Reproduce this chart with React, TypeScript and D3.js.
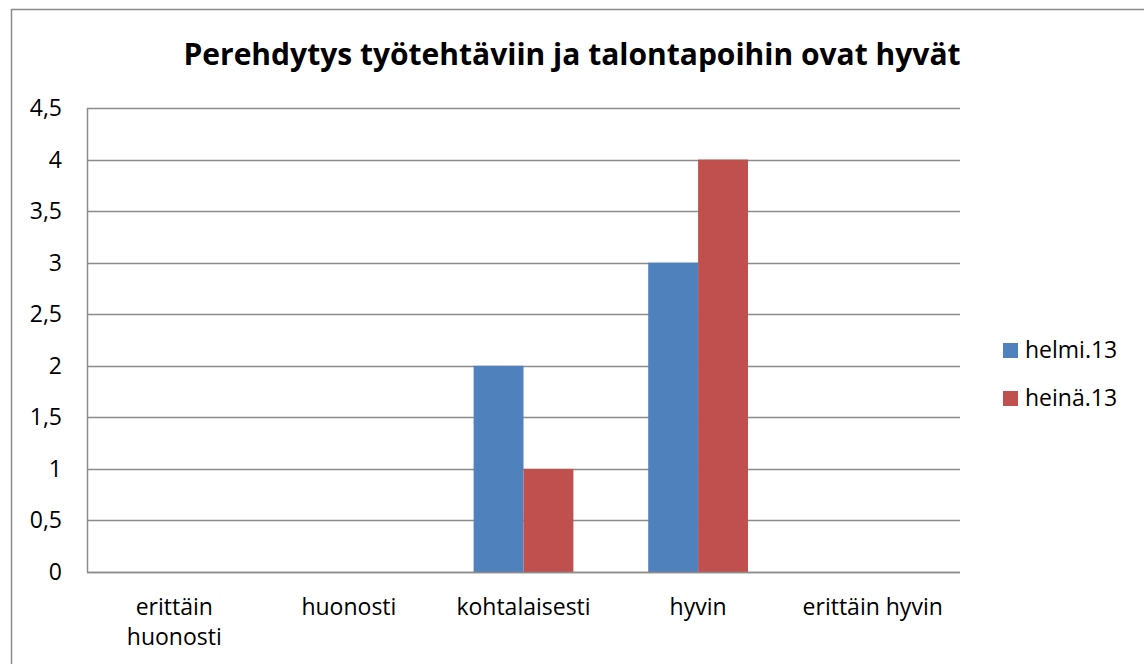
import React from "react";
import * as d3 from "d3";

const categories = ["erittäin huonosti", "huonosti", "kohtalaisesti", "hyvin", "erittäin hyvin"];
const categoryLines = [["erittäin", "huonosti"], ["huonosti"], ["kohtalaisesti"], ["hyvin"], ["erittäin hyvin"]];
const seriesNames = ["helmi.13", "heinä.13"];
const helmi = [0, 0, 2, 3, 0];
const heina = [0, 0, 1, 4, 0];
const yTicks = [0, 0.5, 1, 1.5, 2, 2.5, 3, 3.5, 4, 4.5];
const colors = ["#4F81BD", "#C0504D"];

const W = 1144, H = 664;
const FONT = "'Open Sans', sans-serif";

export default function App() {
  const left = 87, right = 960, top = 108, bottom = 572;
  const x = d3.scaleBand().domain(categories).range([left, right]).paddingInner(0).paddingOuter(0);
  const y = d3.scaleLinear().domain([0, 4.5]).range([bottom, top]);
  const bw = x.bandwidth() / 3.5;
  const series = [helmi, heina];
  const fmt = (v: number) => String(v).replace(".", ",");
  return (
    <svg width={W} height={H} style={{ position: "absolute", left: 0, top: 0 }}>
      <rect x={0} y={0} width={W} height={H} fill="#fff" />
      <rect x={11.5} y={9.5} width={W + 10} height={H + 10} fill="none" stroke="#8c8c8c" strokeWidth={1.5} />
      <text x={572} y={65} textAnchor="middle" fontFamily={FONT} fontWeight="bold" fontSize={30} fill="#000">
        Perehdytys työtehtäviin ja talontapoihin ovat hyvät
      </text>
      {yTicks.map((t) => (
        <g key={t}>
          <line x1={left} x2={right} y1={Math.round(y(t)) + 0.5} y2={Math.round(y(t)) + 0.5} stroke="#8c8c8c" strokeWidth={1.5} />
          <text x={62} y={y(t) + 8} textAnchor="end" fontFamily={FONT} fontSize={23} fill="#000">{fmt(t)}</text>
        </g>
      ))}
      <line x1={left + 0.5} x2={left + 0.5} y1={top} y2={bottom} stroke="#8c8c8c" strokeWidth={1.5} />
      {series.map((s, si) =>
        s.map((v, i) => {
          const x0 = (x(categories[i]) as number) + bw * 0.75 + si * bw;
          return v > 0 ? (
            <rect key={si + "-" + i} x={x0} y={y(v)} width={bw} height={y(0) - y(v)} fill={colors[si]} />
          ) : null;
        })
      )}
      <line x1={left} x2={right} y1={bottom + 0.5} y2={bottom + 0.5} stroke="#8c8c8c" strokeWidth={1.5} />
      {categoryLines.map((lines, i) => (
        <text key={i} textAnchor="middle" fontFamily={FONT} fontSize={23} fill="#000">
          {lines.map((l, j) => (
            <tspan key={j} x={(x(categories[i]) as number) + x.bandwidth() / 2} y={615 + j * 30}>{l}</tspan>
          ))}
        </text>
      ))}
      {seriesNames.map((n, i) => (
        <g key={n}>
          <rect x={1003} y={343 + i * 48} width={15} height={15} fill={colors[i]} />
          <text x={1025} y={358 + i * 48} fontFamily={FONT} fontSize={23} fill="#000">{n}</text>
        </g>
      ))}
    </svg>
  );
}
